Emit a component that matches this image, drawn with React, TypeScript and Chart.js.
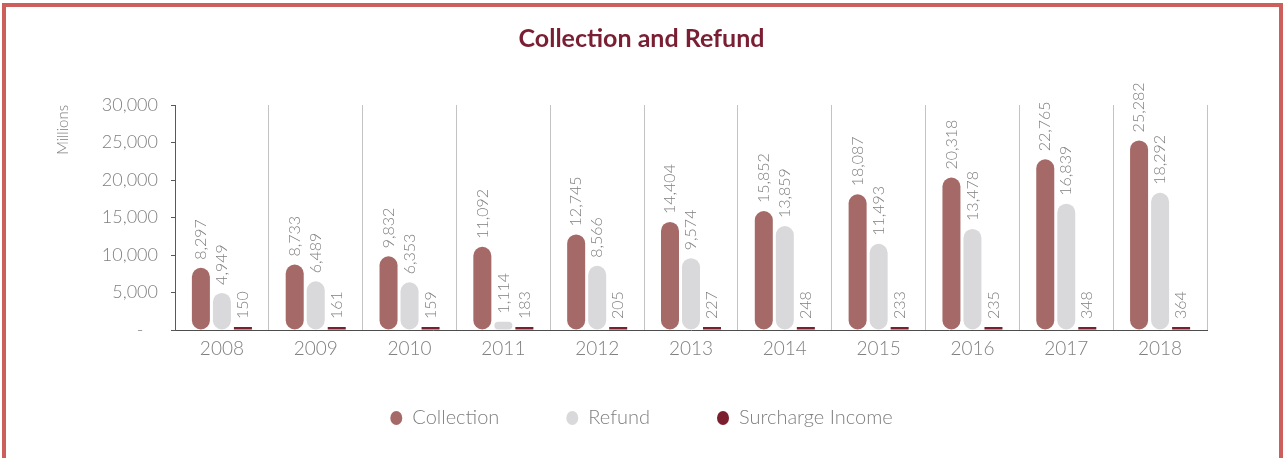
import React, { useEffect, useRef } from "react";
import { Chart, registerables } from "chart.js";

Chart.register(...registerables);

const years = ["2008", "2009", "2010", "2011", "2012", "2013", "2014", "2015", "2016", "2017", "2018"];
const collection = [8297, 8733, 9832, 11092, 12745, 14404, 15852, 18087, 20318, 22765, 25282];
const refund = [4949, 6489, 6353, 1114, 8566, 9574, 13859, 11493, 13478, 16839, 18292];
const surcharge = [150, 161, 159, 183, 205, 227, 248, 233, 235, 348, 364];
const yTicks = [0, 5000, 10000, 15000, 20000, 25000, 30000];

const FONT = "Lato";
const TEXT_GRAY = "#7f7f7f";
const LEGEND_PAD = 67;

const fmt = (v: number) => v.toLocaleString("en-US");

const valueLabels = {
  id: "valueLabels",
  afterDatasetsDraw(chart: any) {
    const ctx = chart.ctx;
    ctx.save();
    ctx.font = `300 16px ${FONT}`;
    ctx.fillStyle = TEXT_GRAY;
    ctx.textAlign = "left";
    ctx.textBaseline = "middle";
    chart.data.datasets.forEach((ds: any, di: number) => {
      const meta = chart.getDatasetMeta(di);
      meta.data.forEach((el: any, i: number) => {
        ctx.save();
        ctx.translate(el.x, el.y - 8);
        ctx.rotate(-Math.PI / 2);
        ctx.fillText(fmt(ds.data[i]), 0, 0);
        ctx.restore();
      });
    });
    ctx.restore();
  },
};

// Place the legend row a fixed distance below the plot (its label padding
// is used for horizontal item spacing, which would otherwise push it down).
const legendShift = {
  id: "legendShift",
  afterLayout(chart: any) {
    const lg = chart.legend;
    if (!lg) return;
    const h = lg.height;
    lg.top = chart.chartArea.bottom + 88 - LEGEND_PAD - 10;
    lg.bottom = lg.top + h;
  },
};

export default function App() {
  const ref = useRef<HTMLCanvasElement>(null);
  useEffect(() => {
    const chart = new Chart(ref.current!, {
      type: "bar",
      data: {
        labels: years,
        datasets: [
          {
            label: "Collection",
            data: collection,
            backgroundColor: "#a56a67",
            borderRadius: 9,
            borderSkipped: false,
          },
          {
            label: "Refund",
            data: refund,
            backgroundColor: "#d9d9db",
            borderRadius: 9,
            borderSkipped: false,
          },
          {
            label: "Surcharge Income",
            data: surcharge,
            backgroundColor: "#7b1e2d",
            minBarLength: 3,
          },
        ],
      },
      options: {
        animation: false,
        responsive: false,
        maintainAspectRatio: false,
        datasets: {
          bar: { categoryPercentage: 0.672, barPercentage: 0.857 },
        },
        layout: { padding: { left: 0, right: 0, top: 0, bottom: 1 } },
        plugins: {
          tooltip: { enabled: false },
          title: {
            display: true,
            text: "Collection and Refund",
            color: "#7a1f33",
            font: { family: FONT, size: 25, weight: "bold" },
            padding: { top: 24, bottom: 51 },
          },
          legend: {
            position: "bottom",
            labels: {
              usePointStyle: true,
              pointStyle: "circle",
              pointStyleWidth: 12,
              boxHeight: 10,
              padding: LEGEND_PAD,
              color: TEXT_GRAY,
              font: { family: FONT, size: 20, weight: "300" },
            },
          },
        },
        scales: {
          x: {
            grid: {
              display: true,
              offset: true,
              drawTicks: false,
              color: "#c3c3c3",
              lineWidth: 1,
            },
            border: { display: true, color: "#4d4d4d", width: 1 },
            ticks: {
              color: TEXT_GRAY,
              padding: 7,
              font: { family: FONT, size: 19, weight: "300" },
            },
            afterFit: (s: any) => {
              s.height = 30;
            },
          },
          y: {
            min: 0,
            max: 30000,
            afterBuildTicks: (s: any) => {
              s.ticks = yTicks.map((v) => ({ value: v }));
            },
            grid: {
              display: true,
              drawOnChartArea: false,
              drawTicks: true,
              tickLength: 4,
              color: "#595959",
            },
            border: { display: true, color: "#595959", width: 1 },
            ticks: {
              color: TEXT_GRAY,
              padding: 13,
              font: { family: FONT, size: 18, weight: "300" },
              callback: (v: any) => (Number(v) === 0 ? "-   " : fmt(Number(v))),
            },
            title: {
              display: true,
              text: "Millions",
              align: "end",
              color: TEXT_GRAY,
              font: { family: FONT, size: 15, weight: "300" },
              padding: { top: 54, bottom: 0 },
            },
            afterFit: (s: any) => {
              s.width = 175;
            },
          },
          spacer: {
            type: "linear",
            position: "right",
            display: true,
            grid: { display: false },
            border: { display: false },
            ticks: { display: false },
            afterFit: (s: any) => {
              s.width = 76;
            },
          },
        },
      },
      plugins: [valueLabels, legendShift],
    });
    return () => chart.destroy();
  }, []);

  return (
    <div style={{ position: "absolute", left: 0, top: 0, width: 1283, height: 458, overflow: "hidden", background: "#fff" }}>
      <canvas ref={ref} width={1283} height={458} style={{ position: "absolute", left: 0, top: 0 }} />
      <div
        style={{
          position: "absolute",
          left: 2,
          top: 3,
          width: 1281,
          height: 500,
          boxSizing: "border-box",
          borderTop: "4px solid #cc5f5c",
          borderLeft: "4px solid #cc5f5c",
          borderRight: "4px solid #cc5f5c",
          pointerEvents: "none",
        }}
      />
    </div>
  );
}
